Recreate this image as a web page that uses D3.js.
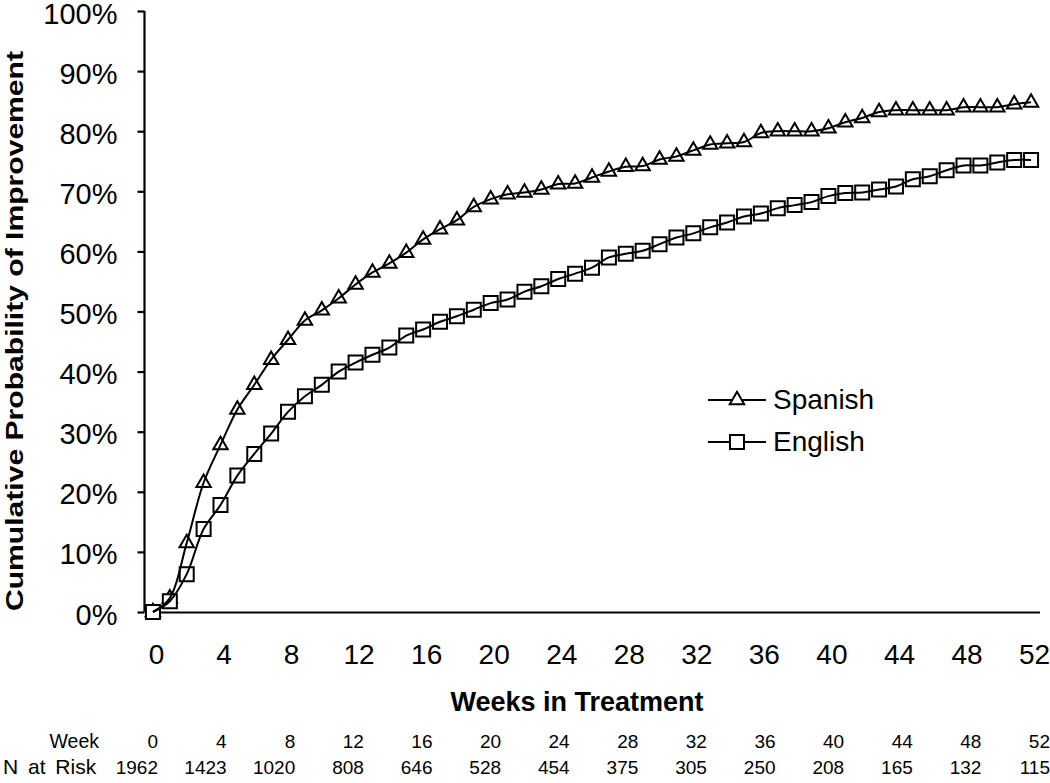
<!DOCTYPE html>
<html>
<head>
<meta charset="utf-8">
<script src="https://cdn.jsdelivr.net/npm/d3@7"></script>
<style>
  html, body { margin: 0; padding: 0; background: #fff; }
  svg { display: block; font-family: "Liberation Sans", Arial, sans-serif; }
</style>
</head>
<body>
<svg id="chart" width="1050" height="783"></svg>
<script>
// ---- data ----
const weeks = d3.range(0, 53);
const spanish = [0, 2.3, 11.5, 21.5, 27.8, 33.7, 37.8, 42, 45.3, 48.5,
  50.2, 52.2, 54.5, 56.5, 58, 59.8, 62, 63.7, 65.2, 67.4,
  68.7, 69.5, 69.8, 70.3, 71.2, 71.3, 72.3, 73.3, 74.1, 74.2,
  75.3, 75.8, 76.8, 77.8, 78, 78.2, 79.7, 80, 80, 80,
  80.5, 81.5, 82.2, 83.2, 83.5, 83.5, 83.5, 83.5, 84, 84,
  84, 84.5, 84.8];
const english = [0, 1.8, 6.3, 13.8, 17.8, 22.7, 26.3, 29.7, 33.3, 35.9,
  37.8, 40, 41.5, 42.8, 44, 46, 47, 48.3, 49.2, 50.3,
  51.4, 52, 53.3, 54.2, 55.4, 56.3, 57.3, 59, 59.6, 60.1,
  61.2, 62.3, 63, 64, 64.8, 65.8, 66.3, 67.2, 67.7, 68.2,
  69.2, 69.7, 69.8, 70.3, 70.8, 72, 72.5, 73.5, 74.3, 74.3,
  74.8, 75.2, 75.2];
const xTicks = [0, 4, 8, 12, 16, 20, 24, 28, 32, 36, 40, 44, 48, 52];
const yTicks = [0, 10, 20, 30, 40, 50, 60, 70, 80, 90, 100];
const tableWeeks = [0, 4, 8, 12, 16, 20, 24, 28, 32, 36, 40, 44, 48, 52];
const nAtRisk = [1962, 1423, 1020, 808, 646, 528, 454, 375, 305, 250, 208, 165, 132, 115];
const seriesNames = ["Spanish", "English"];

// ---- layout ----
const svg = d3.select("#chart");
const x = d3.scaleLinear().domain([-0.5, 52.5]).range([144.5, 1039.5]);
const y = d3.scaleLinear().domain([0, 100]).range([612, 11]);
const col = d3.scaleLinear().domain([0, 52]).range([158, 1050]);

// axes
const yAxis = d3.axisLeft(y).tickValues(yTicks).tickSize(7).tickPadding(20)
  .tickFormat(d => d + "%");
const gy = svg.append("g").attr("transform", `translate(${x.range()[0]},0)`).call(yAxis);
gy.select(".domain").attr("stroke", "#000").attr("stroke-width", 2.2)
  .attr("d", `M0,${y(100)}V${y(0)}`);
gy.selectAll(".tick line").attr("stroke", "#000").attr("stroke-width", 2.2);
gy.selectAll(".tick text").attr("font-size", 29).attr("fill", "#000")
  .attr("dy", 12)
  .attr("font-family", "Liberation Sans, Arial, sans-serif");

const xAxis = d3.axisBottom(x).tickValues(xTicks).tickSize(0).tickPadding(32);
const gx = svg.append("g").attr("transform", `translate(0,${y(0)})`).call(xAxis);
gx.select(".domain").attr("stroke", "#000").attr("stroke-width", 2.2);
gx.selectAll(".tick text").attr("font-size", 28).attr("fill", "#000")
  .attr("dx", 3)
  .attr("font-family", "Liberation Sans, Arial, sans-serif");

// titles
svg.append("text")
  .attr("transform", `translate(23,${(y(0) + 50) / 2}) rotate(-90)`)
  .attr("text-anchor", "middle")
  .attr("font-size", 24).attr("font-weight", "bold")
  .attr("textLength", 560).attr("lengthAdjust", "spacingAndGlyphs")
  .text("Cumulative Probability of Improvement");

svg.append("text")
  .attr("x", 577).attr("y", 711)
  .attr("text-anchor", "middle")
  .attr("font-size", 27).attr("font-weight", "bold")
  .text("Weeks in Treatment");

// series lines
const line = d3.line().curve(d3.curveCatmullRom.alpha(0.5))
  .x((d, i) => x(weeks[i])).y(d => y(d));

const data = [spanish, english];

// markers
const triPath = "M0,-8.2L7.2,4.3L-7.2,4.3Z";
const sqPath = "M-7,-7H7V7H-7Z";
svg.append("g").selectAll("path").data(spanish).join("path")
  .attr("d", triPath)
  .attr("transform", (d, i) => `translate(${x(weeks[i])},${y(d)})`)
  .attr("fill", "#fff").attr("stroke", "#000").attr("stroke-width", 2);
svg.append("g").selectAll("path").data(english).join("path")
  .attr("d", sqPath)
  .attr("transform", (d, i) => `translate(${x(weeks[i])},${y(d)})`)
  .attr("fill", "#fff").attr("stroke", "#000").attr("stroke-width", 2);
// lines drawn through the markers (as in reference)
data.forEach(s => {
  svg.append("path").datum(s).attr("d", line)
    .attr("fill", "none").attr("stroke", "#000").attr("stroke-width", 2);
});

// legend
const legend = svg.append("g");
const legY = [400, 442];
const markers = [triPath, sqPath];
seriesNames.forEach((name, i) => {
  legend.append("line").attr("x1", 708).attr("x2", 766)
    .attr("y1", legY[i]).attr("y2", legY[i])
    .attr("stroke", "#000").attr("stroke-width", 2);
  legend.append("path").attr("d", markers[i])
    .attr("transform", `translate(737,${legY[i]})`)
    .attr("fill", "#fff").attr("stroke", "#000").attr("stroke-width", 2);
  legend.append("text").attr("x", 773).attr("y", legY[i] + 9)
    .attr("font-size", 28).text(name);
});

// at-risk table
svg.append("text").attr("x", 99).attr("y", 748).attr("text-anchor", "end")
  .attr("font-size", 19.5).text("Week");
svg.append("text").attr("x", 3).attr("y", 774).attr("text-anchor", "start")
  .attr("font-size", 21).attr("word-spacing", 4)
  .text("N at Risk");
svg.append("g").selectAll("text").data(tableWeeks).join("text")
  .attr("x", d => col(d)).attr("y", 748).attr("text-anchor", "end")
  .attr("font-size", 19).text(d => d);
svg.append("g").selectAll("text").data(nAtRisk).join("text")
  .attr("x", (d, i) => col(tableWeeks[i])).attr("y", 774).attr("text-anchor", "end")
  .attr("font-size", 19).text(d => d);
</script>
</body>
</html>
